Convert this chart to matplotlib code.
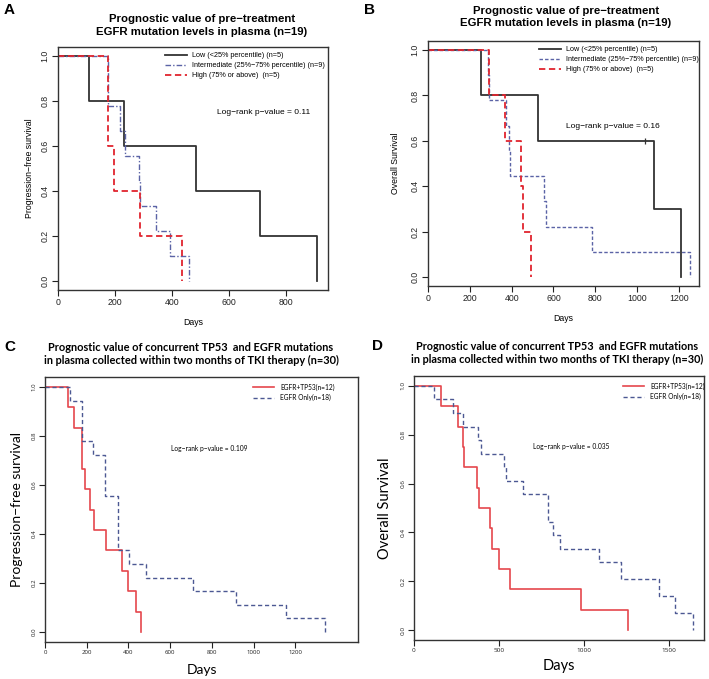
import matplotlib
matplotlib.use("Agg")
import matplotlib.pyplot as plt

# ---- data (step times in days, survival after each step)
a_low_t = [0, 110, 232, 483, 707, 910]
a_low_s = [1.0, 0.8, 0.6, 0.4, 0.2, 0.0]
a_int_t = [0, 174, 176, 218, 235, 285, 288, 344, 393, 460]
a_int_s = [1.0, 0.889, 0.778, 0.667, 0.556, 0.444, 0.333, 0.222, 0.111, 0.0]
a_high_t = [0, 174, 197, 288, 434]
a_high_s = [1.0, 0.6, 0.4, 0.2, 0.0]

b_low_t = [0, 255, 525, 1081, 1210]
b_low_s = [1.0, 0.8, 0.6, 0.3, 0.0]
b_low_cens_t = [1040]
b_low_cens_s = [0.6]
b_int_t = [0, 287, 292, 375, 385, 390, 556, 565, 783, 1252]
b_int_s = [1.0, 0.889, 0.778, 0.667, 0.556, 0.444, 0.333, 0.222, 0.111, 0.0]
b_high_t = [0, 290, 370, 445, 455, 494]
b_high_s = [1.0, 0.8, 0.6, 0.4, 0.2, 0.0]

c_mut_t = [0, 111, 140, 175, 194, 215, 236, 290, 370, 400, 435, 459]
c_mut_s = [1.0, 0.917, 0.833, 0.667, 0.583, 0.5, 0.417, 0.333, 0.25, 0.167, 0.083, 0.0]
c_only_t = [0, 120, 175, 231, 287, 348, 402, 483, 708, 913, 1157, 1340]
c_only_s = [1.0, 0.944, 0.778, 0.722, 0.556, 0.333, 0.278, 0.222, 0.167, 0.111, 0.056, 0.0]

d_mut_t = [0, 158, 258, 287, 292, 373, 385, 448, 456, 499, 565, 980, 1257]
d_mut_s = [1.0, 0.917, 0.833, 0.75, 0.667, 0.583, 0.5, 0.417, 0.333, 0.25, 0.167, 0.083, 0.0]
d_only_t = [0, 117, 229, 287, 376, 395, 528, 542, 639, 786, 815, 860, 1085, 1216, 1441, 1535, 1642]
d_only_s = [1.0, 0.944, 0.889, 0.833, 0.778, 0.722, 0.667, 0.611, 0.556, 0.444, 0.389, 0.333,
            0.278, 0.208, 0.139, 0.069, 0.0]

ab_labels = ["Low (<25% percentile) (n=5)",
             "Intermediate (25%\u221275% percentile) (n=9)",
             "High (75% or above)  (n=5)"]
cd_labels = ["EGFR+TP53(n=12)", "EGFR Only(n=18)"]
ab_title = "Prognostic value of pre\u2212treatment\nEGFR mutation levels in plasma (n=19)"
cd_title = ("Prognostic value of concurrent TP53  and EGFR mutations\n"
            "in plasma collected within two months of TKI therapy (n=30)")

W, H = 709, 679
fig = plt.figure(figsize=(W / 100, H / 100), dpi=100)

HELV = ["Liberation Sans", "DejaVu Sans"]
MYR = ["Lato", "DejaVu Sans"]
TICKCD = ["Open Sans", "DejaVu Sans"]

BLACK = "#333333"
BLUE_AB = "#5b63a6"
RED_AB = "#e0242e"
RED_CD = "#e5474d"
BLUE_CD = "#4c5893"


def box(l, r, t, b):
    return fig.add_axes([l / W, 1 - b / H, (r - l) / W, (b - t) / H])


def style(ax, xmax, xticks, tickfs, fam, lw=1.0):
    ax.set_xlim(0, xmax)
    ax.set_ylim(-0.04, 1.04)
    ax.set_xticks(xticks)
    ax.set_yticks([0.0, 0.2, 0.4, 0.6, 0.8, 1.0])
    ax.set_yticklabels(["0.0", "0.2", "0.4", "0.6", "0.8", "1.0"], rotation=90, va="center")
    ax.tick_params(direction="out", length=4, width=0.8, labelsize=tickfs, pad=2, colors="#222222")
    for lab in ax.get_xticklabels() + ax.get_yticklabels():
        lab.set_family(fam)
    for sp in ax.spines.values():
        sp.set_linewidth(lw)
        sp.set_color("#333333")


# ---- A
ax = box(58, 328, 47, 290)
ax.step(a_low_t, a_low_s, where="post", color=BLACK, lw=1.3, label=ab_labels[0])
ax.step(a_int_t, a_int_s, where="post", color=BLUE_AB, lw=1.0, dashes=(4, 1.5, 1, 1.5), label=ab_labels[1])
ax.step(a_high_t, a_high_s, where="post", color=RED_AB, lw=1.3, dashes=(3.5, 2), label=ab_labels[2])
style(ax, 947, [0, 200, 400, 600, 800], 6.3, HELV)
ax.legend(loc="upper left", bbox_to_anchor=(0.385, 0.99), frameon=False,
          handlelength=3.0, handletextpad=0.7, labelspacing=0.4, borderaxespad=0,
          prop={"family": HELV, "size": 5.2})
ax.text(558, 0.75, "Log\u2212rank p\u2212value = 0.11", fontsize=6, family=HELV, va="center")
ax.set_xlabel("Days", fontsize=6.3, family=HELV, labelpad=8)
ax.set_ylabel("Progression\u2212free survival", fontsize=6.3, family=HELV, labelpad=5)
fig.text(202 / W, 1 - 25.5 / H, ab_title, ha="center", va="center", fontsize=8.2,
         fontweight="bold", family=HELV, linespacing=1.45)
fig.text(4 / W, 1 - 10 / H, "A", fontsize=11, fontweight="bold", family=HELV, va="center")

# ---- B
ax = box(428, 699, 41, 286)
ax.step(b_low_t, b_low_s, where="post", color=BLACK, lw=1.3, label=ab_labels[0])
ax.step(b_int_t, b_int_s, where="post", color=BLUE_AB, lw=1.0, dashes=(2.5, 1.5), label=ab_labels[1])
ax.step(b_high_t, b_high_s, where="post", color=RED_AB, lw=1.3, dashes=(3.5, 2), label=ab_labels[2])
ax.plot(b_low_cens_t, b_low_cens_s, ls="none", marker="|", ms=5, mew=0.9, color=BLACK)
style(ax, 1296, [0, 200, 400, 600, 800, 1000, 1200], 6.3, HELV)
ax.legend(loc="upper left", bbox_to_anchor=(0.40, 0.99), frameon=False,
          handlelength=3.0, handletextpad=0.7, labelspacing=0.4, borderaxespad=0,
          prop={"family": HELV, "size": 5.2})
ax.text(659, 0.662, "Log\u2212rank p\u2212value = 0.16", fontsize=6, family=HELV, va="center")
ax.set_xlabel("Days", fontsize=6.3, family=HELV, labelpad=8)
ax.set_ylabel("Overall Survival", fontsize=6.3, family=HELV, labelpad=8)
fig.text(566 / W, 1 - 17 / H, ab_title, ha="center", va="center", fontsize=8.2,
         fontweight="bold", family=HELV, linespacing=1.35)
fig.text(364 / W, 1 - 10 / H, "B", fontsize=11, fontweight="bold", family=HELV, va="center")

# ---- C
ax = box(45, 358, 377, 642)
ax.step(c_mut_t, c_mut_s, where="post", color=RED_CD, lw=1.2, label=cd_labels[0])
ax.step(c_only_t, c_only_s, where="post", color=BLUE_CD, lw=1.0, dashes=(3, 2), label=cd_labels[1])
style(ax, 1500, [0, 200, 400, 600, 800, 1000, 1200], 4.4, TICKCD)
ax.legend(loc="upper left", bbox_to_anchor=(0.655, 0.985), frameon=False,
          handlelength=3.2, handletextpad=0.9, labelspacing=0.45, borderaxespad=0,
          prop={"family": MYR, "size": 4.8})
ax.text(606, 0.749, "Log\u2212rank p\u2212value = 0.109", fontsize=4.8, family=MYR, va="center")
ax.set_xlabel("Days", fontsize=10, family=MYR, labelpad=6)
ax.set_ylabel("Progression\u2212free survival", fontsize=10, family=MYR, labelpad=6)
fig.text(191 / W, 1 - 354 / H, cd_title, ha="center", va="center", fontsize=7.9,
         fontweight="bold", family=MYR, linespacing=1.3)
fig.text(4 / W, 1 - 347 / H, "C", fontsize=11, fontweight="bold", family=HELV, va="center")

# ---- D
ax = box(414, 704, 376, 640)
ax.step(d_mut_t, d_mut_s, where="post", color=RED_CD, lw=1.2, label=cd_labels[0])
ax.step(d_only_t, d_only_s, where="post", color=BLUE_CD, lw=1.0, dashes=(3, 2), label=cd_labels[1])
style(ax, 1705, [0, 500, 1000, 1500], 4.6, TICKCD)
ax.legend(loc="upper left", bbox_to_anchor=(0.71, 0.985), frameon=False,
          handlelength=3.2, handletextpad=0.9, labelspacing=0.45, borderaxespad=0,
          prop={"family": MYR, "size": 4.8})
ax.text(699, 0.752, "Log\u2212rank p\u2212value = 0.035", fontsize=4.8, family=MYR, va="center")
ax.set_xlabel("Days", fontsize=10.5, family=MYR, labelpad=4)
ax.set_ylabel("Overall Survival", fontsize=10.5, family=MYR, labelpad=6)
fig.text(557 / W, 1 - 353 / H, cd_title, ha="center", va="center", fontsize=7.8,
         fontweight="bold", family=MYR, linespacing=1.3)
fig.text(372 / W, 1 - 346 / H, "D", fontsize=11, fontweight="bold", family=HELV, va="center")

fig.savefig("out.png", dpi=100)
